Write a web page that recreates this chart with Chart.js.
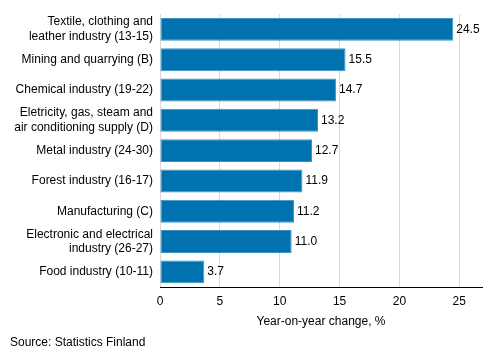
<!DOCTYPE html>
<html><head><meta charset="utf-8">
<script src="https://cdn.jsdelivr.net/npm/chart.js@4/dist/chart.umd.min.js"></script>
<style>html,body{margin:0;padding:0;background:#fff}#wrap{width:493px;height:360px}</style>
</head><body><div id="wrap"><canvas id="c" width="493" height="360"></canvas></div>
<script>
const categories = [
  ["Textile, clothing and", "leather industry (13-15)"],
  "Mining and quarrying (B)",
  "Chemical industry (19-22)",
  ["Eletricity, gas, steam and", "air conditioning supply (D)"],
  "Metal industry (24-30)",
  "Forest industry (16-17)",
  "Manufacturing (C)",
  ["Electronic and electrical", "industry (26-27)"],
  "Food industry (10-11)"
];
const values = [24.5, 15.5, 14.7, 13.2, 12.7, 11.9, 11.2, 11.0, 3.7];
const xTicks = [0, 5, 10, 15, 20, 25];
const axisTitle = "Year-on-year change, %";
const sourceText = "Source: Statistics Finland";

const FONT = "'Liberation Sans', Arial, sans-serif";
Chart.defaults.font.family = FONT;
Chart.defaults.font.size = 12;
Chart.defaults.color = '#000';

const labelPlugin = {
  id: 'valueLabels',
  afterDatasetsDraw(chart) {
    const ctx = chart.ctx;
    const meta = chart.getDatasetMeta(0);
    ctx.save();
    ctx.font = '12px ' + FONT;
    ctx.fillStyle = '#000';
    ctx.textAlign = 'left';
    ctx.textBaseline = 'middle';
    meta.data.forEach((bar, i) => {
      ctx.fillText(values[i].toFixed(1), bar.x + 3, bar.y);
    });
    ctx.restore();
  }
};

new Chart(document.getElementById('c'), {
  type: 'bar',
  data: {
    labels: categories,
    datasets: [{
      data: values,
      backgroundColor: '#0072b0',
      borderColor: '#3d92c6',
      borderWidth: 1,
      borderSkipped: false,
      barPercentage: 0.78,
      categoryPercentage: 0.97
    }]
  },
  options: {
    indexAxis: 'y',
    responsive: false,
    animation: false,
    layout: { padding: { top: 10, right: 11, left: 10, bottom: 0 } },
    plugins: {
      legend: { display: false },
      tooltip: { enabled: false },
      title: {
        display: true,
        text: sourceText,
        position: 'bottom',
        align: 'start',
        font: { size: 12, weight: 'normal' },
        color: '#000',
        padding: { top: 6, bottom: 10.6 }
      }
    },
    scales: {
      x: {
        min: 0,
        max: 26.9,
        afterBuildTicks: (axis) => { axis.ticks = xTicks.map(v => ({ value: v })); },
        afterFit: (scale) => { scale.height = 42; },
        grid: { color: '#d9d9d9', drawTicks: false, lineWidth: 1 },
        border: { display: true, color: '#000', width: 1 },
        ticks: { padding: 7, font: { size: 12 }, color: '#000', maxRotation: 0 },
        title: { display: true, text: axisTitle, font: { size: 12 }, color: '#000', padding: { top: 2, bottom: 0 } }
      },
      y: {
        afterFit: (scale) => { scale.width = 150; },
        grid: { display: false, drawTicks: false },
        border: { display: false },
        ticks: { padding: 7, font: { size: 12 }, color: '#000', autoSkip: false }
      }
    }
  },
  plugins: [labelPlugin]
});
</script>
</body></html>
